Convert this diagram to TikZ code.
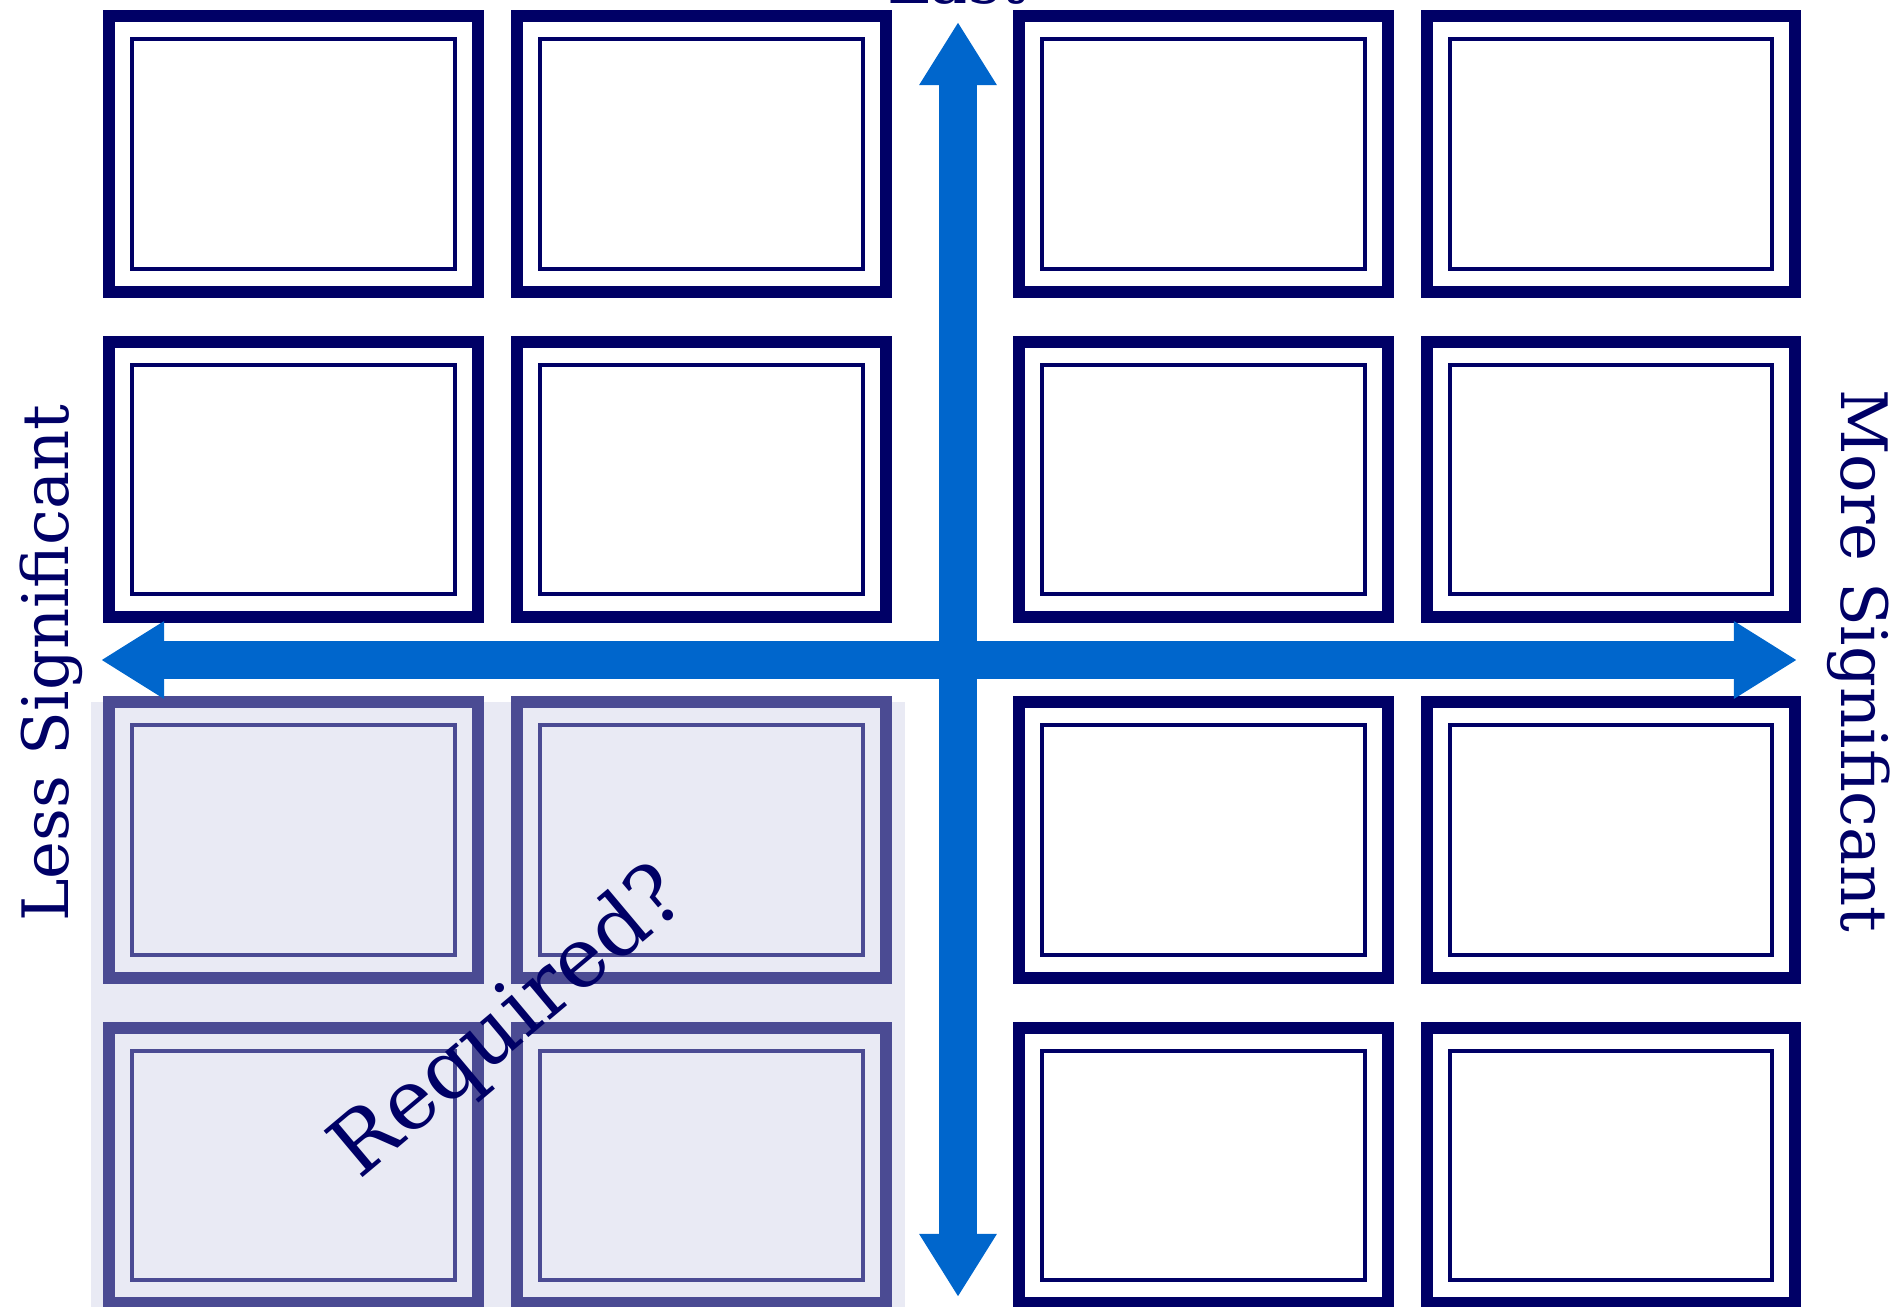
\documentclass[tikz,border=0pt]{standalone}
\usepackage{tikz}
\usepackage{fontspec}
\setmainfont{DejaVu Serif}
\usetikzlibrary{calc,arrows.meta}
\definecolor{quadNavy}{HTML}{000066}
\definecolor{quadBlue}{HTML}{0066CC}
\definecolor{quadShade}{HTML}{E9EAF4}

\begin{document}
\begin{tikzpicture}[x=0.01cm,y=-0.01cm,
  card/.style={draw=quadNavy,line width=0.12cm,minimum width=3.68cm,
               minimum height=2.75cm,outer sep=0pt,inner sep=0pt},
  cardin/.style={draw=quadNavy,line width=0.04cm},
  faded/.style={draw=quadNavy!68!quadShade},
  tone/.style={},
  axis/.style={{Triangle[length=0.63cm,width=0.73cm]}-{Triangle[length=0.63cm,width=0.73cm]},
               quadBlue,line width=0.38cm},
  qlabel/.style={text=quadNavy,font=\fontsize{18.2}{22}\selectfont}]
  \useasboundingbox (0,0) rectangle (1898,1307);
  % shaded lower left quadrant
  \fill[quadShade] (91,702) rectangle (905,1307);
  % cards
  \foreach \c/\x in {1/293.5,2/701.5,3/1203.5,4/1611}
    \foreach \r/\y in {1/154,2/479.5,3/840,4/1165.5}{
      \ifnum\c<3 \ifnum\r>2 \tikzset{tone/.style={faded}}\fi\fi
      \node[card,tone] (card\c\r) at (\x,\y) {};
      \draw[cardin,tone] ($(card\c\r.north west)+(23,23)$)
        rectangle ($(card\c\r.south east)+(-23,-23)$);
    }
  % axes
  \coordinate (axisN) at (958,22);
  \coordinate (axisS) at (958,1297);
  \coordinate (axisW) at (101,660);
  \coordinate (axisE) at (1797,660);
  \draw[axis] (axisS) -- (axisN);
  \draw[axis] (axisW) -- (axisE);
  % labels
  \node[qlabel,anchor=base] (last) at (957,4) {Last};
  \node[qlabel,anchor=base,rotate=90] (less) at (68,663) {Less Significant};
  \node[qlabel,anchor=base,rotate=-90] (more) at (1841,661) {More Significant};
  \node[qlabel,font=\fontsize{23.6}{28}\selectfont,rotate=40] (req) at (510,1024) {Required?};
\end{tikzpicture}
\end{document}
